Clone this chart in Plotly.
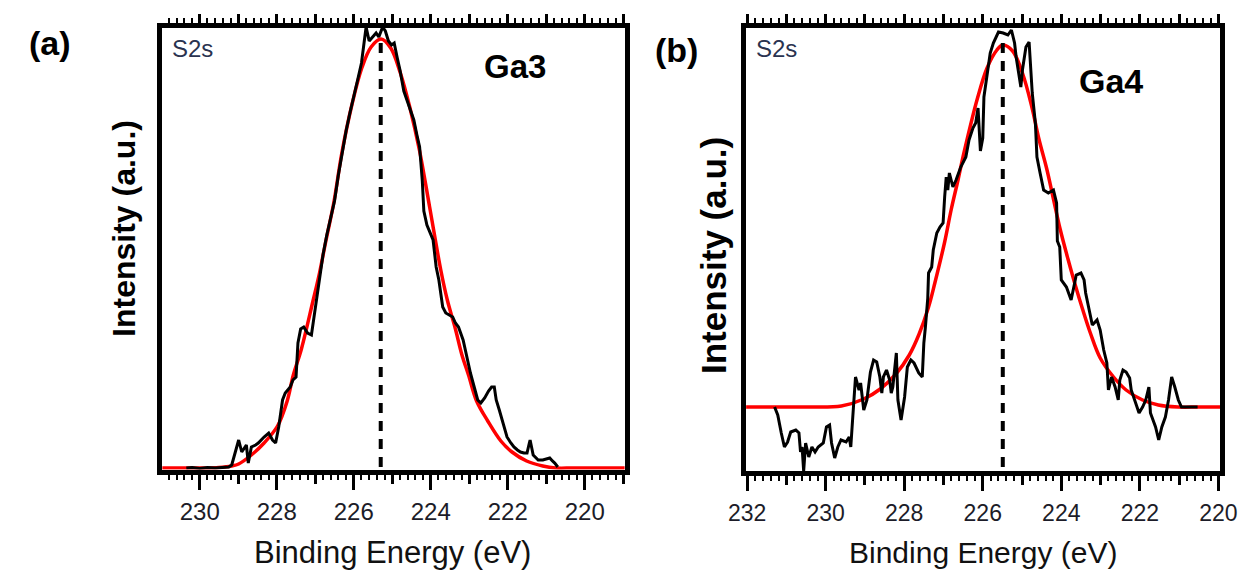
import plotly.graph_objects as go

W, H = 1256, 573

# ---------------- Panel (a) : Ga3 ----------------
a_black_E = [230.35, 230.2, 230.0, 229.8, 229.6, 229.4, 229.25, 229.17, 229.04, 228.99,
             228.91, 228.79, 228.74, 228.66, 228.55, 228.48, 228.33, 228.21, 228.11, 228.03,
             227.95, 227.85, 227.78, 227.65, 227.58, 227.50, 227.45, 227.38, 227.30, 227.20,
             227.10, 227.0, 226.9, 226.8, 226.7, 226.6, 226.5, 226.4, 226.3, 226.2,
             226.1, 226.0, 225.9, 225.8, 225.72, 225.68, 225.6, 225.5, 225.42, 225.35,
             225.25, 225.18, 225.1, 225.02, 224.95, 224.87, 224.8, 224.7, 224.62, 224.52,
             224.44, 224.36, 224.29, 224.22, 224.18, 224.1, 223.94, 223.86, 223.79, 223.69,
             223.61, 223.52, 223.43, 223.36, 223.28, 223.16, 223.05, 222.97, 222.9, 222.78,
             222.7, 222.6, 222.5, 222.42, 222.35, 222.3, 222.22, 222.15, 222.02, 221.92,
             221.84, 221.75, 221.67, 221.58, 221.5, 221.44, 221.42, 221.34, 221.21, 221.09,
             220.98, 220.91, 220.84, 220.78, 220.7]
a_black_I = [5, 5.5, 4.5, 5.5, 5, 5.5, 6, 8, 26, 33,
             21, 28, 10, 26, 28, 30, 36, 40, 33, 30,
             46, 73, 80, 86, 93, 96, 130, 144, 146, 140,
             138, 165, 196, 218, 238, 256, 272, 298, 322, 342,
             360, 378, 393, 410, 438, 446, 432, 437, 440, 436,
             446, 442, 432, 428, 430, 415, 403, 382, 373, 360,
             353, 338, 326, 292, 262, 248, 233, 206, 193, 166,
             160, 158, 156, 150, 146, 133, 113, 100, 90, 73,
             70, 75, 82, 86, 86, 73, 63, 53, 36, 30,
             26, 23, 21, 20, 20, 30, 33, 18, 13, 13,
             14, 15, 12, 10, 6]

a_fit_E = [231.1, 230.5, 230.0, 229.5, 229.17, 228.99, 228.66, 228.33, 227.98, 227.73,
           227.57, 227.36, 227.06, 226.89, 226.72, 226.52, 226.31, 226.05, 225.80, 225.55,
           225.29, 225.04, 224.79, 224.54, 224.29, 224.03, 223.74, 223.57, 223.36, 223.19,
           223.02, 222.81, 222.52, 222.18, 221.89, 221.51, 221.09, 220.76, 220.3, 219.5, 218.8]
a_fit_I = [5, 5, 5, 5.5, 7, 9, 18, 30, 47, 72,
           98, 124, 172, 200, 233, 270, 320, 368, 404, 426,
           434, 425, 400, 365, 322, 266, 203, 173, 144, 118,
           98, 72, 52, 32, 21, 12, 7, 5, 5, 5, 5]

a_peak_E = 225.30
a_peak_I = [6, 430]

# ---------------- Panel (b) : Ga4 ----------------
b_black_E = [231.30, 231.22, 231.13, 231.05, 230.97, 230.89, 230.76, 230.68, 230.64, 230.60,
             230.56, 230.51, 230.43, 230.35, 230.27, 230.19, 230.06, 229.98, 229.90, 229.85,
             229.77, 229.69, 229.61, 229.48, 229.40, 229.36, 229.32, 229.28, 229.24, 229.15,
             229.11, 229.03, 228.95, 228.86, 228.78, 228.70, 228.62, 228.57, 228.53, 228.45,
             228.37, 228.33, 228.29, 228.20, 228.16, 228.08, 227.99, 227.92, 227.83, 227.75,
             227.63, 227.54, 227.50, 227.46, 227.40, 227.38, 227.30, 227.26, 227.17, 227.09,
             227.01, 226.97, 226.93, 226.89, 226.85, 226.76, 226.68, 226.56, 226.43, 226.35,
             226.25, 226.18, 226.12, 226.06, 226.0, 225.97, 225.89, 225.81, 225.73, 225.60,
             225.48, 225.36, 225.27, 225.19, 225.15, 225.07, 225.03, 224.99, 224.90, 224.82,
             224.78, 224.74, 224.66, 224.62, 224.54, 224.45, 224.33, 224.20, 224.12, 224.10,
             224.04, 224.00, 223.87, 223.75, 223.66, 223.62, 223.50, 223.42, 223.38, 223.30,
             223.21, 223.09, 223.01, 222.92, 222.84, 222.80, 222.72, 222.63, 222.55, 222.51,
             222.43, 222.35, 222.26, 222.22, 222.14, 222.02, 221.93, 221.85, 221.77, 221.73,
             221.60, 221.52, 221.44, 221.35, 221.27, 221.19, 221.11, 221.02, 220.94, 220.53]
b_black_I = [66, 58, 40, 26, 31, 41, 43, 40, 21, 26,
             2, 30, 16, 26, 21, 26, 30, 46, 48, 30,
             15, 26, 33, 31, 36, 26, 50, 73, 96, 83,
             90, 63, 73, 101, 113, 111, 96, 80, 96, 103,
             93, 80, 86, 120, 73, 53, 76, 106, 113, 110,
             100, 96, 130, 146, 175, 200, 206, 223, 240, 246,
             250, 276, 296, 283, 300, 286, 293, 306, 316, 333,
             345, 350, 365, 322, 335, 376, 400, 420, 430, 441,
             440, 438, 443, 430, 416, 396, 386, 403, 426, 431,
             403, 380, 350, 316, 300, 283, 280, 283, 270, 232,
             226, 193, 186, 173, 190, 198, 200, 193, 180, 166,
             148, 153, 143, 123, 110, 83, 96, 86, 73, 93,
             103, 101, 95, 83, 73, 60, 66, 73, 86, 60,
             46, 33, 46, 56, 73, 96, 86, 73, 66, 66]

b_fit_E = [232.2, 231.5, 231.0, 230.47, 229.6, 229.03, 228.61, 228.21, 227.87, 227.62,
           227.38, 227.22, 226.97, 226.80, 226.63, 226.48, 226.14, 225.89, 225.64, 225.49,
           225.24, 224.99, 224.75, 224.57, 224.37, 224.2, 224.03, 223.83, 223.63, 223.46,
           223.26, 223.01, 222.67, 222.35, 221.93, 221.53, 221.03, 220.5, 219.8]
b_fit_I = [66, 66, 66, 66, 67, 74, 84, 99, 118, 139,
           166, 190, 231, 264, 293, 320, 374, 405, 423, 428,
           422, 400, 366, 334, 304, 274, 244, 214, 186, 164,
           140, 115, 96, 83, 73, 68, 66, 66, 66]

b_peak_E = 225.49
b_peak_I = [6, 430]

even_ticks = [220, 222, 224, 226, 228, 230, 232]

FONT = "Liberation Sans, Arial, sans-serif"


def px(x):
    return x / W


def py(y):
    return 1 - y / H


fig = go.Figure()

fig.add_trace(go.Scatter(x=a_fit_E, y=a_fit_I, mode="lines", line=dict(color="#ff0000", width=3.5, shape="spline"),
                         xaxis="x", yaxis="y", showlegend=False))
fig.add_trace(go.Scatter(x=a_black_E, y=a_black_I, mode="lines", line=dict(color="black", width=3),
                         xaxis="x", yaxis="y", showlegend=False))
fig.add_trace(go.Scatter(x=[a_peak_E, a_peak_E], y=a_peak_I, mode="lines",
                         line=dict(color="black", width=4, dash="10px,8px"),
                         xaxis="x", yaxis="y", showlegend=False))
fig.add_trace(go.Scatter(x=b_fit_E, y=b_fit_I, mode="lines", line=dict(color="#ff0000", width=3.5, shape="spline"),
                         xaxis="x2", yaxis="y2", showlegend=False))
fig.add_trace(go.Scatter(x=b_black_E, y=b_black_I, mode="lines", line=dict(color="black", width=3),
                         xaxis="x2", yaxis="y2", showlegend=False))
fig.add_trace(go.Scatter(x=[b_peak_E, b_peak_E], y=b_peak_I, mode="lines",
                         line=dict(color="black", width=4, dash="10px,8px"),
                         xaxis="x2", yaxis="y2", showlegend=False))
fig.add_trace(go.Scatter(x=[], y=[], xaxis="x3", yaxis="y", showlegend=False))
fig.add_trace(go.Scatter(x=[], y=[], xaxis="x4", yaxis="y2", showlegend=False))


def xax(rng, dom, fsize, vals):
    return dict(range=rng, domain=dom, autorange=False,
                tickmode="array", tickvals=vals,
                ticktext=[str(v) if v % 2 == 0 else "" for v in vals],
                ticks="outside", ticklen=9, tickwidth=3, tickcolor="black",
                showline=True, linewidth=5, linecolor="black", mirror="allticks",
                minor=dict(dtick=0.2, tick0=0, ticks="outside", ticklen=5, tickwidth=2, tickcolor="black"),
                tickfont=dict(family=FONT, size=fsize, color="#1c1c28"),
                ticklabelstandoff=8,
                showgrid=False, zeroline=False, fixedrange=True)


def xlong(rng, over, anchor):
    return dict(range=rng, overlaying=over, anchor=anchor, autorange=False,
                tickmode="array", tickvals=even_ticks, ticks="outside", ticklen=15,
                tickwidth=3, tickcolor="black", showticklabels=False,
                showline=True, linewidth=5, linecolor="black",
                showgrid=False, zeroline=False, fixedrange=True)


def yax(rng, dom):
    return dict(range=rng, domain=dom, autorange=False, showline=True, linewidth=5,
                linecolor="black", mirror=True, ticks="", showticklabels=False,
                showgrid=False, zeroline=False, fixedrange=True)


a_xr = [230.972, 218.965]
b_xr = [232.025, 219.958]

fig.update_layout(
    width=W, height=H, autosize=False,
    margin=dict(l=0, r=0, t=0, b=0, pad=0),
    paper_bgcolor="white", plot_bgcolor="white",
    showlegend=False,
    xaxis=xax(a_xr, [px(148.5), px(624)], 24, list(range(219, 231))),
    yaxis=yax([3.5, 445], [py(469.5), py(28)]),
    xaxis2=xax(b_xr, [px(749), px(1236.5)], 23, list(range(220, 233))),
    yaxis2=dict(yax([2, 445.5], [py(471), py(27.5)]), anchor="x2"),
    xaxis3=xlong(a_xr, "x", "y"),
    xaxis4=xlong(b_xr, "x2", "y2"),
)
fig.layout.xaxis.anchor = "y"
fig.layout.xaxis2.anchor = "y2"
fig.layout.yaxis.anchor = "x"

ann = [
    dict(text="<b>(a)</b>", x=px(33), y=py(43), size=34, angle=0, color="black"),
    dict(text="<b>(b)</b>", x=px(677), y=py(50), size=34, angle=0, color="black"),
    dict(text="S2s", x=px(180), y=py(49), size=24, angle=0, color="#2a3350"),
    dict(text="S2s", x=px(780), y=py(49), size=24, angle=0, color="#2a3350"),
    dict(text="<b>Ga3</b>", x=px(511), y=py(66), size=33, angle=0, color="black"),
    dict(text="<b>Ga4</b>", x=px(1124), y=py(81), size=34, angle=0, color="black"),
    dict(text="<b>Intensity (a.u.)</b>", x=px(109), y=py(228), size=32, angle=-90, color="black"),
    dict(text="<b>Intensity (a.u.)</b>", x=px(716), y=py(256), size=35, angle=-90, color="black"),
    dict(text="Binding Energy (eV)", x=px(385), y=py(552), size=31, angle=0, color="#111111"),
    dict(text="Binding Energy (eV)", x=px(993), y=py(552), size=30, angle=0, color="#111111"),
]
for a in ann:
    fig.add_annotation(text=a["text"], x=a["x"], y=a["y"], xref="paper", yref="paper",
                       xanchor="center", yanchor="middle", showarrow=False, textangle=a["angle"],
                       font=dict(family=FONT, size=a["size"], color=a["color"]))

fig.write_html("out.html")
